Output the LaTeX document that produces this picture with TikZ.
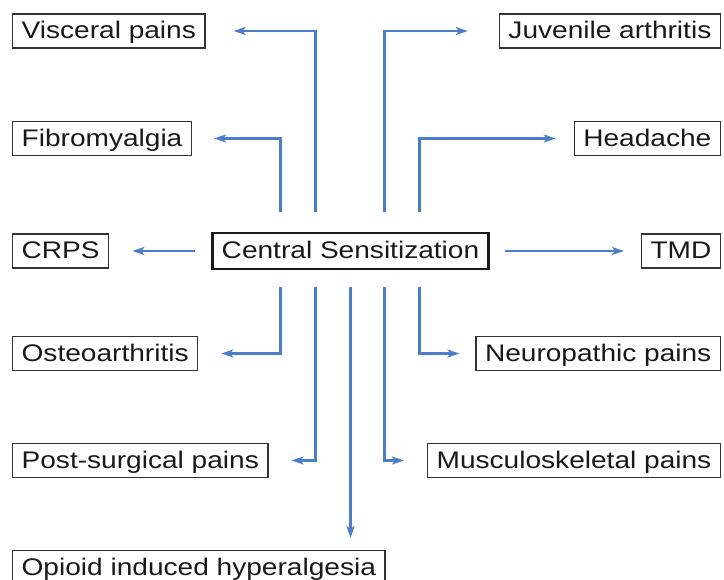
\documentclass[tikz,border=0pt]{standalone}
\usepackage{fontspec}
\setmainfont{Liberation Sans}[FakeStretch=1.17]
\usetikzlibrary{arrows.meta}
\definecolor{arrblue}{HTML}{4A7EC8}
\definecolor{boxgray}{HTML}{333333}
\begin{document}
\begin{tikzpicture}[x=1pt,y=-1pt,
 box/.style={draw=boxgray,line width=1.3pt,inner xsep=9pt,inner ysep=0pt,minimum height=34pt,text height=19pt,text depth=3pt,font=\fontsize{24}{28}\selectfont,text=black!90},
 cbox/.style={box,draw=black!90,line width=2.8pt,minimum height=36pt},
 arr/.style={draw=arrblue,line width=2.7pt,-{Stealth[length=12pt,width=8pt,inset=3pt]}}]
\useasboundingbox (0,0) rectangle (724,580);
\node[cbox] (cs) at (350.5,251) {Central Sensitization};
\node[box,anchor=west] (visc) at (12,31) {Visceral pains};
\node[box,anchor=west] (fibro) at (12,138.5) {Fibromyalgia};
\node[box,anchor=west] (crps) at (12,251) {CRPS};
\node[box,anchor=west] (osteo) at (12,353.5) {Osteoarthritis};
\node[box,anchor=west] (post) at (12,460.5) {Post-surgical pains};
\node[box,anchor=north west] (opioid) at (12,550) {Opioid induced hyperalgesia};
\node[box,anchor=east] (juv) at (721,31) {Juvenile arthritis};
\node[box,anchor=east] (head) at (721,138.5) {Headache};
\node[box,anchor=east] (tmd) at (721,251) {TMD};
\node[box,anchor=east] (neuro) at (721,353.5) {Neuropathic pains};
\node[box,anchor=east] (musc) at (721,460.5) {Musculoskeletal pains};
\draw[arr,shorten >=28pt] ([xshift=-35pt,yshift=20pt]cs.north) |- (visc.east);
\draw[arr,shorten >=22pt] ([xshift=-70pt,yshift=20pt]cs.north) |- (fibro.east);
\draw[arr,shorten >=31pt] ([xshift=34pt,yshift=20pt]cs.north) |- (juv.west);
\draw[arr,shorten >=18pt] ([xshift=69pt,yshift=20pt]cs.north) |- (head.west);
\draw[arr,shorten <=16pt,shorten >=23pt] (cs.west) -- (crps.east);
\draw[arr,shorten <=15pt,shorten >=17pt] (cs.east) -- (tmd.west);
\draw[arr,shorten >=23pt] ([xshift=-70pt,yshift=-17pt]cs.south) |- (osteo.east);
\draw[arr,shorten >=16pt] ([xshift=69pt,yshift=-17pt]cs.south) |- (neuro.west);
\draw[arr,shorten >=23pt] ([xshift=-35pt,yshift=-17pt]cs.south) |- (post.east);
\draw[arr,shorten >=23pt] ([xshift=34pt,yshift=-17pt]cs.south) |- (musc.west);
\draw[arr,shorten >=12pt] ([yshift=-17pt]cs.south) -- (cs.south |- opioid.north);
\end{tikzpicture}
\end{document}
